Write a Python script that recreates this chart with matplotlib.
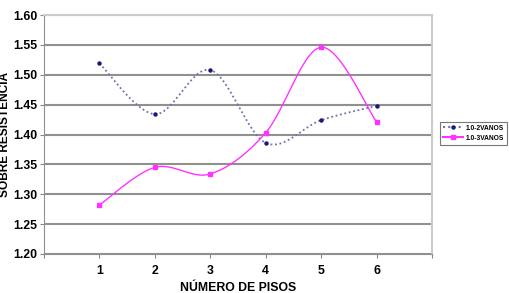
import numpy as np
import matplotlib.pyplot as plt

# data
pisos = [1, 2, 3, 4, 5, 6]
vanos_2 = [1.519, 1.434, 1.508, 1.386, 1.424, 1.448]
vanos_3 = [1.282, 1.345, 1.334, 1.403, 1.546, 1.421]
y_ticks = [1.20, 1.25, 1.30, 1.35, 1.40, 1.45, 1.50, 1.55, 1.60]


def smooth(x, y, n=30):
    # Excel-like smoothed line (Catmull-Rom through the points)
    x = np.asarray(x, float)
    y = np.asarray(y, float)
    px = np.concatenate([[x[0]], x, [x[-1]]])
    py = np.concatenate([[y[0]], y, [y[-1]]])
    xs, ys = [], []
    t = np.linspace(0, 1, n)
    for i in range(1, len(px) - 2):
        p0, p1, p2, p3 = [np.array([px[j], py[j]]) for j in (i - 1, i, i + 1, i + 2)]
        c1 = p1 + (p2 - p0) / 6
        c2 = p2 - (p3 - p1) / 6
        b = ((1 - t) ** 3)[:, None] * p1 + (3 * (1 - t) ** 2 * t)[:, None] * c1 \
            + (3 * (1 - t) * t ** 2)[:, None] * c2 + (t ** 3)[:, None] * p2
        xs.extend(b[:, 0])
        ys.extend(b[:, 1])
    return xs, ys


plt.rcParams['font.family'] = ['Liberation Sans', 'DejaVu Sans']

fig = plt.figure(figsize=(5.1, 2.93), dpi=100)
ax = fig.add_axes([44 / 510, 1 - 254 / 293, 388 / 510, 239 / 293])

blue = '#1a1a7a'
line_blue = '#7070b0'
pink = '#ff33ff'

sx, sy = smooth(pisos, vanos_2)
ax.plot(sx, sy, color=line_blue, linestyle=(0, (1, 1.5)), linewidth=1.3)
ax.plot(pisos, vanos_2, linestyle='none', marker='o', markersize=2.2, color=blue)
sx, sy = smooth(pisos, vanos_3)
ax.plot(sx, sy, color=pink, linewidth=1.0)
ax.plot(pisos, vanos_3, linestyle='none', marker='s', markersize=2.5, color=pink)

ax.set_xlim(0, 7)
ax.set_ylim(1.20, 1.60)
ax.set_yticks(y_ticks)
ax.set_yticklabels(['%.2f' % v for v in y_ticks], fontsize=8.8, fontweight='bold')
ax.set_xticks(range(0, 8))
ax.set_xticklabels([''] + [str(p) for p in pisos] + [''], fontsize=8.8, fontweight='bold')
ax.tick_params(axis='both', length=3, color='#888888')
ax.tick_params(axis='y', pad=1.5)
ax.tick_params(axis='x', pad=5)
ax.grid(axis='y', color='#909090', linewidth=1.5)
ax.set_axisbelow(True)
for side in ['left', 'bottom']:
    ax.spines[side].set_color('#909090')
for side in ['top', 'right']:
    ax.spines[side].set_color('#cccccc')
    ax.spines[side].set_linewidth(1.5)

ax.set_xlabel('NÚMERO DE PISOS', fontsize=8.8, fontweight='bold', va='baseline')
ax.xaxis.set_label_coords(0.5, -(291 - 254) / 239)
ax.set_ylabel('SOBRE RESISTENCIA', fontsize=8.6, fontweight='bold', va='center')
ax.yaxis.set_label_coords(-(44 - 5.5) / 388, 0.5)

# legend
h1, = ax.plot([], [], color=line_blue, linestyle=(0, (1, 1.5)), marker='o',
              markersize=2.2, markerfacecolor=blue, markeredgecolor=blue)
h2, = ax.plot([], [], color=pink, marker='s', markersize=2.5)
leg = fig.legend([h1, h2], ['1.0-2VANOS', '1.0-3VANOS'], loc='center left',
                 bbox_to_anchor=(440 / 510, 1 - 133 / 293),
                 prop={'weight': 'bold', 'size': 4.8}, frameon=True, fancybox=False,
                 edgecolor='#555555', handlelength=3.0, borderpad=0.45,
                 labelspacing=0.45, handletextpad=0.4, borderaxespad=0)
leg.get_frame().set_linewidth(0.8)

fig.savefig('out.png', dpi=100)
